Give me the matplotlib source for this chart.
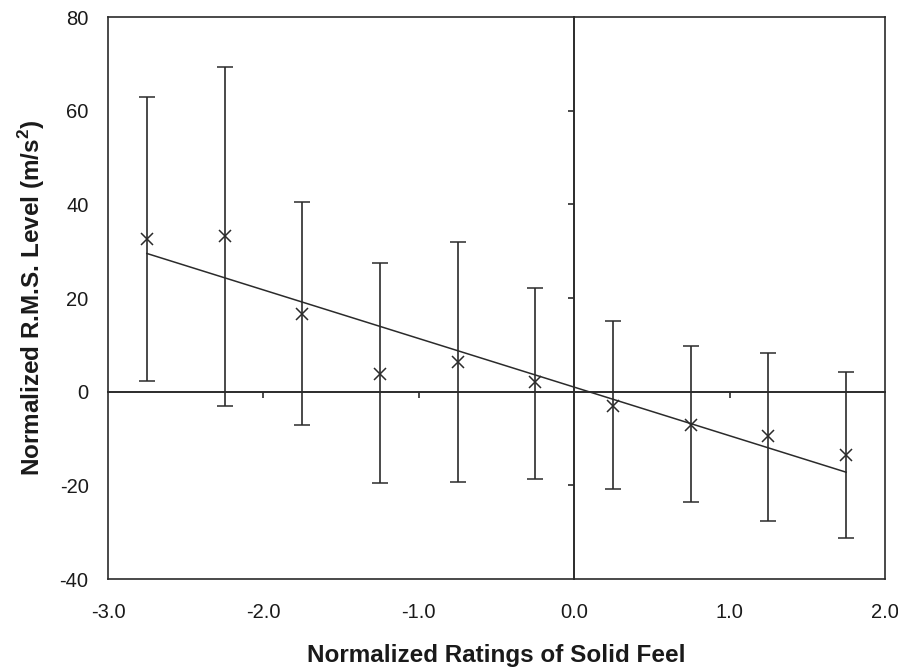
import numpy as np
import matplotlib.pyplot as plt

plt.rcParams['font.family'] = ['Liberation Sans', 'DejaVu Sans']
plt.rcParams['axes.unicode_minus'] = False

# normalized ratings (x) and mean RMS levels with error bar extents
ratings = [-2.75, -2.25, -1.75, -1.25, -0.75, -0.25, 0.25, 0.75, 1.25, 1.75]
rms_mean = [32.6, 33.2, 16.6, 3.8, 6.3, 2.1, -3.0, -7.1, -9.4, -13.5]
rms_upper = [62.9, 69.3, 40.5, 27.5, 32.0, 22.1, 15.1, 9.8, 8.3, 4.2]
rms_lower = [2.3, -3.0, -7.1, -19.5, -19.3, -18.6, -20.8, -23.5, -27.6, -31.2]

x_ticks = [-3.0, -2.0, -1.0, 0.0, 1.0, 2.0]
y_ticks = [-40, -20, 0, 20, 40, 60, 80]

x = np.array(ratings)
y = np.array(rms_mean)
err = [y - np.array(rms_lower), np.array(rms_upper) - y]

ink = '#2b2b2b'
fig = plt.figure(figsize=(8.98, 6.67), dpi=100)
pos = [0.1203, 0.1319, 0.8652, 0.8426]

# outer frame with tick labels
ax = fig.add_axes(pos)
ax.set_xlim(-3, 2)
ax.set_ylim(-40, 80)
ax.set_xticks(x_ticks)
ax.set_xticklabels([f'{v:.1f}' for v in x_ticks])
ax.set_yticks(y_ticks)
ax.tick_params(length=0, labelsize=14.5, colors='#1a1a1a')
ax.tick_params(axis='x', pad=17)
ax.tick_params(axis='y', pad=14)
for s in ax.spines.values():
    s.set_color(ink)
    s.set_linewidth(1.2)

ax.errorbar(x, y, yerr=err, fmt='x', color=ink, ecolor=ink, elinewidth=1.2,
            capsize=5.5, capthick=1.2, markersize=8, markeredgewidth=1.1, zorder=3)

# least squares trend line
b, a = np.polyfit(x, y, 1)
ax.plot(x[[0, -1]], a + b * x[[0, -1]], color=ink, lw=1.1, zorder=3)

ax.set_xlabel('Normalized Ratings of Solid Feel', fontsize=17.5, fontweight='bold',
              labelpad=16, color='#1a1a1a')
ax.set_ylabel('Normalized R.M.S. Level (m/s$^\\mathregular{2}$)', fontsize=17.5,
              fontweight='bold', labelpad=9, color='#1a1a1a')

# axes through the origin with their own tick marks
ax2 = fig.add_axes(pos, facecolor='none')
ax2.set_xlim(-3, 2)
ax2.set_ylim(-40, 80)
ax2.spines['left'].set_position(('data', 0))
ax2.spines['bottom'].set_position(('data', 0))
ax2.spines['top'].set_visible(False)
ax2.spines['right'].set_visible(False)
for s in ('left', 'bottom'):
    ax2.spines[s].set_color(ink)
    ax2.spines[s].set_linewidth(1.4)
ax2.set_xticks([-2, -1, 1])
ax2.set_yticks([-20, 20, 40, 60])
ax2.tick_params(direction='out', length=4, width=1.2, color=ink,
                labelbottom=False, labelleft=False)

fig.savefig('out.png', dpi=100)
